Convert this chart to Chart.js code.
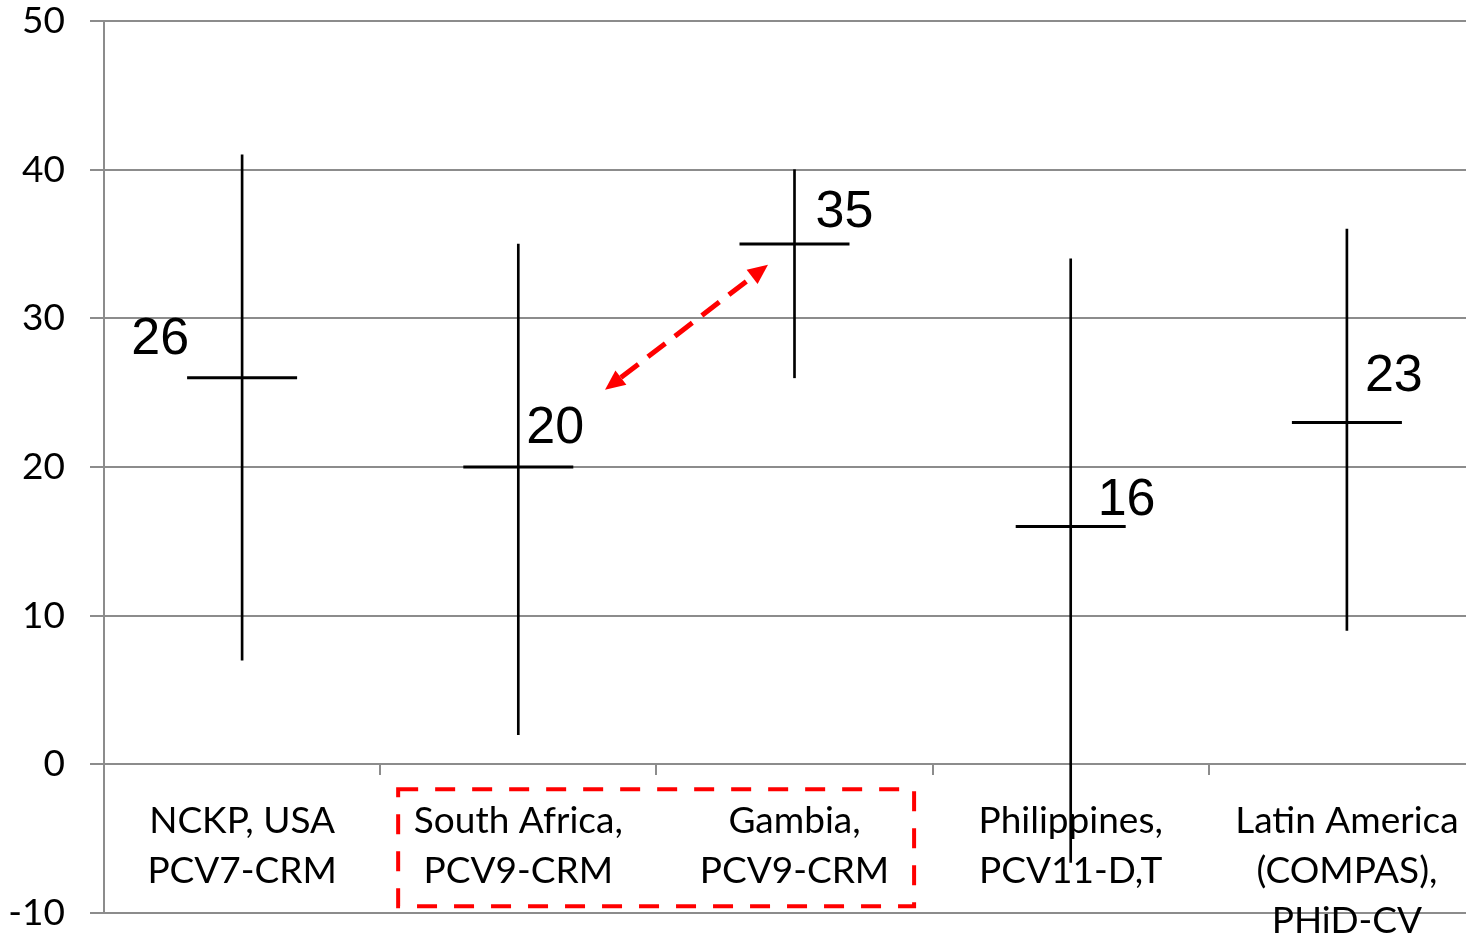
<!DOCTYPE html>
<html>
<head>
<meta charset="utf-8">
<script src="https://cdn.jsdelivr.net/npm/chart.js@4.4.1/dist/chart.umd.min.js"></script>
<style>
  html, body { margin: 0; padding: 0; background: #fff; overflow: hidden; }
  .graph-container { position: relative; width: 1500px; height: 938px; }
</style>
</head>
<body>
<div class="graph-container"><canvas id="chart"></canvas></div>
<script>
// trial / vaccine categories
const sites = [
  ['NCKP, USA', 'PCV7-CRM'],
  ['South Africa,', 'PCV9-CRM'],
  ['Gambia,', 'PCV9-CRM'],
  ['Philippines,', 'PCV11-D,T'],
  ['Latin America', '(COMPAS),', 'PHiD-CV'],
];
// point estimates and confidence bounds
const estimates = [26, 20, 35, 16, 23];
const lowerCI = [7, 2, 26, -6.6, 9];
const upperCI = [41, 35, 40, 34, 36];
const yTicks = [-10, 0, 10, 20, 30, 40, 50];

// where each value label sits relative to its tick (style only)
const labelPlacement = [
  { dx: -53, dy: -24, align: 'right' },
  { dx: 8, dy: -24, align: 'left' },
  { dx: 21, dy: -17, align: 'left' },
  { dx: 27, dy: -11, align: 'left' },
  { dx: 18, dy: -31, align: 'left' },
];

const GRID = '#8c8c8c';
const RED = '#ff0000';

// value labels next to each estimate tick
const valueLabels = {
  id: 'valueLabels',
  afterDatasetsDraw(chart) {
    const ctx = chart.ctx;
    const meta = chart.getDatasetMeta(1);
    ctx.save();
    ctx.font = '52px "Liberation Sans", Arial, sans-serif';
    ctx.fillStyle = '#000';
    ctx.textBaseline = 'alphabetic';
    meta.data.forEach((pt, i) => {
      const p = labelPlacement[i];
      ctx.textAlign = p.align;
      ctx.fillText(String(estimates[i]), pt.x + p.dx, pt.y + p.dy);
    });
    ctx.restore();
  },
};

// red dashed box round the two PCV9 labels and the double arrow between them
const highlight = {
  id: 'highlight',
  afterDraw(chart) {
    const { ctx, scales: { x, y } } = chart;
    ctx.save();
    ctx.strokeStyle = RED;
    ctx.fillStyle = RED;

    const left = x.getPixelForValue(0.565);
    const right = x.getPixelForValue(2.433);
    const top = y.getPixelForValue(-1.68);
    const bottom = y.getPixelForValue(-9.55);
    ctx.lineWidth = 4;
    ctx.setLineDash([20, 17]);
    ctx.strokeRect(left, top, right - left, bottom - top);

    const x1 = x.getPixelForValue(1.314), y1 = y.getPixelForValue(25.2);
    const x2 = x.getPixelForValue(1.904), y2 = y.getPixelForValue(33.6);
    const ang = Math.atan2(y2 - y1, x2 - x1);
    const head = 20, half = 9;
    const c = Math.cos(ang), s = Math.sin(ang);
    ctx.lineWidth = 5;
    ctx.setLineDash([22, 12]);
    ctx.beginPath();
    ctx.moveTo(x1 + c * head, y1 + s * head);
    ctx.lineTo(x2 - c * head, y2 - s * head);
    ctx.stroke();
    ctx.setLineDash([]);
    const tri = (tx, ty, dir) => {
      const bx = tx - dir * c * head, by = ty - dir * s * head;
      ctx.beginPath();
      ctx.moveTo(tx, ty);
      ctx.lineTo(bx - s * half, by + c * half);
      ctx.lineTo(bx + s * half, by - c * half);
      ctx.closePath();
      ctx.fill();
    };
    tri(x2, y2, 1);
    tri(x1, y1, -1);
    ctx.restore();
  },
};

const ctx = document.getElementById('chart').getContext('2d');
new Chart(ctx, {
  type: 'bar',
  data: {
    labels: sites,
    datasets: [
      {
        label: 'CI',
        data: lowerCI.map((lo, i) => [lo, upperCI[i]]),
        backgroundColor: '#000',
        borderWidth: 0,
        barThickness: 2,
      },
      {
        type: 'line',
        label: 'Estimate',
        data: estimates,
        showLine: false,
        pointStyle: 'line',
        pointRadius: 55,
        pointHoverRadius: 55,
        borderColor: '#000',
        borderWidth: 3,
        pointBorderWidth: 3,
      },
    ],
  },
  options: {
    responsive: true,
    maintainAspectRatio: false,
    animation: false,
    layout: {
      autoPadding: false,
      padding: { left: 0, right: 15, top: 21, bottom: 25 },
    },
    plugins: {
      legend: { display: false },
      tooltip: { enabled: false },
    },
    scales: {
      x: {
        position: { y: 0 },
        offset: true,
        grid: {
          offset: true,
          drawOnChartArea: false,
          drawTicks: true,
          tickLength: 10,
          color: GRID,
          lineWidth: 2,
        },
        border: { color: GRID, width: 2 },
        ticks: {
          autoSkip: false,
          maxRotation: 0,
          padding: 22,
          color: '#000',
          font: { family: 'Lato', size: 37, lineHeight: 50 / 37 },
        },
      },
      y: {
        min: yTicks[0],
        max: yTicks[yTicks.length - 1],
        afterFit: scale => {
          scale.width = 104;
          // keep the plot edges where the layout padding puts them
          scale.paddingTop = 0;
          scale.paddingBottom = 0;
        },
        afterBuildTicks: scale => { scale.ticks = yTicks.map(v => ({ value: v })); },
        grid: {
          color: GRID,
          lineWidth: 2,
          tickLength: 14,
        },
        border: { color: GRID, width: 2 },
        ticks: {
          padding: 25,
          color: '#000',
          font: { family: 'Lato', size: 37, lineHeight: 1 },
        },
      },
    },
  },
  plugins: [valueLabels, highlight],
});
</script>
</body>
</html>
